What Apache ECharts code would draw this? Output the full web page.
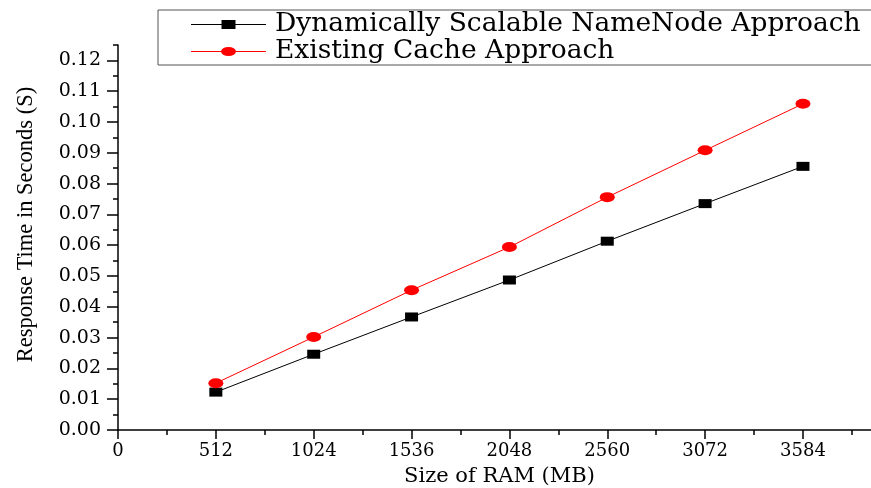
<!DOCTYPE html>
<html>
<head>
<meta charset="utf-8">
<script src="https://cdn.jsdelivr.net/npm/echarts@6/dist/echarts.min.js"></script>
<style>html,body{margin:0;padding:0;background:#fff}#c{width:871px;height:488px}</style>
</head>
<body>
<div id="c"></div>
<script>
const ramSizes = [512, 1024, 1536, 2048, 2560, 3072, 3584];
const dynamicScalable = [0.0123, 0.0246, 0.0367, 0.0487, 0.0613, 0.0735, 0.0856];
const existingCache = [0.0152, 0.0302, 0.0454, 0.0594, 0.0756, 0.0908, 0.1059];
const xTickLabels = [0, 512, 1024, 1536, 2048, 2560, 3072, 3584];
const xMinorTicks = [256, 768, 1280, 1792, 2304, 2816, 3328, 3840];
const yTickLabels = [0, 0.01, 0.02, 0.03, 0.04, 0.05, 0.06, 0.07, 0.08, 0.09, 0.10, 0.11, 0.12];
const yMinorTicks = [0.005, 0.015, 0.025, 0.035, 0.045, 0.055, 0.065, 0.075, 0.085, 0.095, 0.105, 0.115, 0.125];
const seriesNames = ['Dynamically Scalable NameNode Approach', 'Existing Cache Approach'];

const serif = 'DejaVu Serif';
const X_MAX = 3940, Y_MAX = 0.125;
const chart = echarts.init(document.getElementById('c'));
const axisLine = { show: true, lineStyle: { color: '#000', width: 1.5 } };

chart.setOption({
  animation: false,
  backgroundColor: '#fff',
  grid: { left: 118, right: 0, top: 45, bottom: 58, containLabel: false, outerBoundsMode: 'none' },
  legend: {
    left: 158, top: 10, orient: 'vertical',
    padding: [1, 24, 0, 33],
    itemGap: 0, itemWidth: 75, itemHeight: 10,
    borderColor: '#555', borderWidth: 1,
    textStyle: { fontFamily: serif, fontSize: 26.5, color: '#000', lineHeight: 25, padding: [0, 0, 0, 4] },
    data: [
      { name: seriesNames[0], icon: 'path://M0,4.5 H31 V5.5 H0 Z M44,4.5 H75 V5.5 H44 Z M30.5,0.5 H44.5 V9.5 H30.5 Z', itemStyle: { color: '#000' } },
      { name: seriesNames[1], icon: 'path://M0,4.5 H31 V5.5 H0 Z M44,4.5 H75 V5.5 H44 Z M30,5 A7.5,4.5 0 1,1 45,5 A7.5,4.5 0 1,1 30,5 Z', itemStyle: { color: '#ff0000' } }
    ]
  },
  xAxis: [
    {
      type: 'value', min: 0, max: X_MAX, interval: 256, position: 'bottom',
      axisLine: axisLine,
      axisTick: { show: true, inside: false, length: 5, customValues: xMinorTicks, lineStyle: { color: '#000', width: 1.5 } },
      axisLabel: { show: false },
      splitLine: { show: false },
      name: 'Size of RAM (MB)', nameLocation: 'middle', nameGap: 36,
      nameTextStyle: { fontFamily: serif, fontSize: 21, color: '#000', padding: [0, 0, 0, 10] }
    },
    {
      type: 'value', min: 0, max: X_MAX, interval: 512, position: 'bottom',
      axisLine: { show: false },
      axisTick: { show: true, inside: false, length: 9, customValues: xTickLabels, lineStyle: { color: '#000', width: 1.5 } },
      axisLabel: { show: true, customValues: xTickLabels, margin: 12, fontFamily: serif, fontSize: 18, color: '#000',
        formatter: v => (xTickLabels.indexOf(v) >= 0 ? String(v) : '') },
      splitLine: { show: false }
    }
  ],
  yAxis: [
    {
      type: 'value', min: 0, max: Y_MAX, interval: 0.005, position: 'left',
      axisLine: axisLine,
      axisTick: { show: true, inside: false, length: 5, customValues: yMinorTicks, lineStyle: { color: '#000', width: 1.5 } },
      axisLabel: { show: false },
      splitLine: { show: false },
      name: 'Response Time in Seconds (S)', nameLocation: 'middle', nameGap: 80,
      nameTextStyle: { fontFamily: 'Liberation Serif', fontSize: 22.5, color: '#000', padding: [0, 0, 0, 26] }
    },
    {
      type: 'value', min: 0, max: Y_MAX, interval: 0.01, position: 'left', offset: 0,
      axisLine: { show: false },
      axisTick: { show: true, inside: false, length: 11, customValues: yTickLabels, lineStyle: { color: '#000', width: 1.5 } },
      axisLabel: { show: true, customValues: yTickLabels, margin: 17, fontFamily: serif, fontSize: 19, color: '#000',
        formatter: v => (Math.abs(Math.round(v * 100) - v * 100) < 1e-6 ? v.toFixed(2) : '') },
      splitLine: { show: false }
    }
  ],
  series: [
    {
      name: seriesNames[0], type: 'line', xAxisIndex: 0, yAxisIndex: 0,
      data: ramSizes.map((x, i) => [x, dynamicScalable[i]]),
      symbol: 'rect', symbolSize: [13, 9],
      itemStyle: { color: '#000' }, lineStyle: { color: '#000', width: 1 }
    },
    {
      name: seriesNames[1], type: 'line', xAxisIndex: 0, yAxisIndex: 0,
      data: ramSizes.map((x, i) => [x, existingCache[i]]),
      symbol: 'circle', symbolSize: [15, 10],
      itemStyle: { color: '#ff0000' }, lineStyle: { color: '#ff0000', width: 1 }
    }
  ]
});
</script>
</body>
</html>
